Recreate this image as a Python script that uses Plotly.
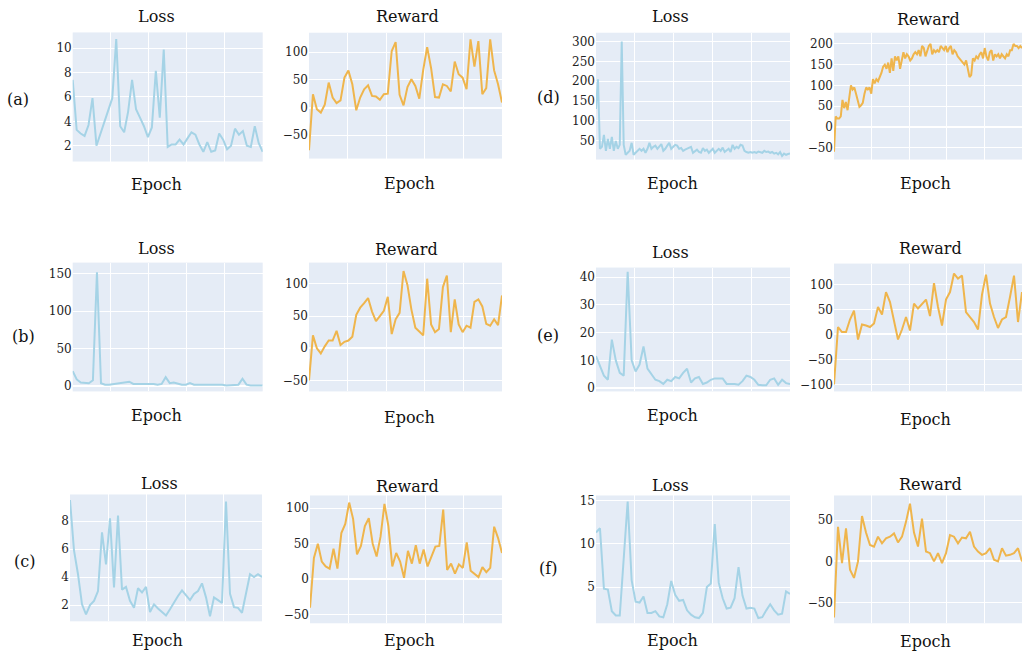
import plotly.graph_objects as go

W, H = 1022, 658

# ---------------- data ----------------
loss_a = [7.4, 3.3, 3.0, 2.8, 3.7, 5.9, 2.0, 3.0, 3.9, 4.9, 5.9, 10.75, 3.6, 3.1, 4.8, 7.4,
          5.0, 4.3, 3.6, 2.7, 3.5, 8.15, 4.3, 9.9, 1.9, 2.1, 2.1, 2.5, 2.1, 2.6, 3.1, 2.9,
          2.1, 1.5, 2.3, 1.5, 1.6, 3.0, 2.5, 1.7, 2.0, 3.4, 2.9, 3.2, 2.0, 1.9, 3.6, 2.2, 1.5]
reward_a = [-77, 24, -3, -9, 5, 45, 18, 8, 13, 54, 67, 42, -5, 18, 33, 40, 21, 20, 14, 24,
            25, 102, 118, 23, 4, 37, 51, 39, 16, 68, 109, 71, 19, 18, 42, 39, 29, 83, 60,
            54, 33, 123, 74, 120, 24, 35, 123, 67, 42, 9]

loss_b = [20, 9, 5, 4, 4, 8, 152, 4, 2, 2, 3, 3, 4, 5, 6, 3, 3, 3, 4, 3, 3, 2, 3, 12, 4,
          5, 3, 2, 2, 4, 2, 2, 2, 3, 3, 2, 3, 2, 1, 1, 1, 2, 10, 2, 1, 1, 1, 1]
reward_b = [-50, 20, 0, -8, 3, 12, 12, 27, 5, 10, 12, 18, 52, 63, 70, 78, 57, 42, 50, 58,
            80, 22, 45, 55, 120, 98, 60, 32, 26, 20, 108, 37, 25, 30, 95, 113, 25, 76, 37,
            25, 35, 32, 72, 76, 65, 38, 35, 45, 36, 82]

loss_c = [9.5, 5.9, 4.2, 2.05, 1.33, 2.0, 2.3, 3.0, 7.2, 4.9, 8.2, 3.25, 8.4, 3.1, 3.3,
          2.3, 1.8, 3.2, 2.9, 3.3, 1.5, 2.05, 1.75, 1.5, 1.25, 1.7, 2.2, 2.65, 3.05, 2.7,
          2.35, 2.8, 3.0, 3.55, 2.55, 1.2, 2.55, 2.35, 2.15, 9.4, 2.8, 1.85, 1.8, 1.45,
          2.75, 4.2, 4.0, 4.2, 4.0]
reward_c = [-40, 30, 50, 25, 18, 15, 43, 15, 65, 78, 108, 85, 35, 47, 75, 86, 50, 32, 60,
            106, 75, 18, 37, 25, 2, 40, 22, 48, 22, 42, 18, 32, 46, 47, 98, 13, 22, 8, 21,
            16, 52, 12, 7, 3, 17, 10, 16, 74, 58, 37]

loss_d = [130, 205, 30, 35, 65, 25, 55, 30, 60, 25, 50, 30, 40, 300, 40, 15, 20, 25, 45,
          15, 20, 25, 30, 25, 30, 20, 30, 45, 30, 35, 38, 30, 35, 42, 25, 30, 38, 45, 30,
          35, 40, 38, 30, 32, 25, 28, 30, 33, 35, 20, 25, 28, 22, 20, 32, 25, 28, 20, 25,
          30, 20, 25, 30, 25, 33, 22, 25, 30, 22, 40, 30, 35, 32, 40, 38, 25, 22, 20, 22,
          20, 22, 20, 23, 22, 20, 25, 22, 23, 20, 22, 18, 20, 16, 22, 12, 18, 15, 17, 18]
reward_d = [-60, 25, 20, 20, 25, 65, 45, 60, 40, 70, 100, 90, 95, 80, 60, 48, 52, 58, 80,
            95, 90, 95, 80, 115, 105, 115, 110, 120, 130, 145, 150, 140, 155, 130, 165,
            135, 170, 160, 170, 140, 160, 180, 165, 175, 170, 160, 165, 175, 180, 175, 185,
            170, 195, 190, 170, 185, 195, 200, 175, 185, 180, 185, 180, 195, 190, 185, 195,
            180, 190, 195, 175, 185, 180, 170, 165, 160, 155, 150, 160, 140, 120, 125, 165,
            160, 170, 165, 175, 180, 165, 190, 170, 160, 180, 185, 160, 175, 170, 175, 165,
            175, 170, 165, 175, 170, 185, 185, 200, 195, 195, 190, 195, 190]

loss_e = [11.5, 8, 4.5, 3, 17.5, 10, 5.5, 4.5, 42, 10, 6, 8.5, 15, 7, 5, 3, 2.5, 1.5, 3,
          2.5, 4, 3.5, 5.5, 7, 2, 3.5, 4, 1.5, 2, 3, 3.5, 3.5, 3.5, 1.5, 1.5, 1.5, 1.2,
          2.5, 4.5, 4, 3, 1.2, 1, 1, 3, 3.5, 1.2, 3, 1.8, 1.5]
reward_e = [-100, 15, 5, 5, 30, 48, -10, 20, 18, 15, 22, 55, 40, 85, 65, 25, -10, 10, 35,
            8, 62, 52, 60, 70, 37, 103, 55, 18, 70, 85, 122, 112, 118, 45, 35, 25, 10, 80,
            120, 62, 35, 13, 30, 35, 75, 118, 25, 85]

loss_f = [11.3, 11.8, 4.8, 4.7, 2.2, 1.7, 1.7, 8, 14.9, 5.8, 3.3, 3.2, 3.9, 2.0, 2.0, 2.2,
          1.6, 1.5, 3.0, 5.7, 4.1, 3.4, 3.5, 2.3, 1.8, 1.5, 1.4, 2.0, 5.0, 5.4, 12.3, 5.5,
          3.7, 2.5, 2.6, 3.7, 7.3, 4.0, 2.5, 2.6, 2.5, 1.4, 1.5, 2.3, 3.0, 2.3, 1.8, 1.9,
          4.5, 4.2]
reward_f = [-68, 42, -2, 40, -10, -20, 0, 55, 35, 20, 18, 30, 22, 28, 30, 34, 23, 30, 48,
            70, 35, 18, 52, 12, 10, 0, 10, -2, 10, 32, 30, 22, 29, 28, 36, 18, 12, 8, 10,
            16, 2, 0, 16, 7, 8, 10, 16, 0]

panel_labels = ["(a)", "(b)", "(c)", "(d)", "(e)", "(f)"]

LOSS_C = "#a5d3e6"
REW_C = "#efb54c"
FONT = "DejaVu Serif"

# panel spec: series, color, x px range, y px range (top,bottom), y range, dtick,
# title, title center (x,y), epoch center (x,y)
panels = [
    (loss_a, LOSS_C, (72.7, 262.7), (30.7, 161), (0.7, 11.3), 2, "Loss", (156, 15), (156, 184)),
    (reward_a, REW_C, (309, 502), (31, 158), (-92, 135), 50, "Reward", (407, 15), (409, 183)),
    (loss_d, LOSS_C, (596, 790), (31, 159), (3, 322), 50, "Loss", (670, 15), (672, 183)),
    (reward_d, REW_C, (834, 1022), (31, 159), (-79, 227), 50, "Reward", (928, 18), (925, 183)),
    (loss_b, LOSS_C, (72.7, 262.7), (263, 393), (-7, 165), 50, "Loss", (156, 249), (156, 417)),
    (reward_b, REW_C, (309, 502), (263, 393), (-67, 133), 50, "Reward", (406, 250), (409, 419)),
    (loss_e, LOSS_C, (596, 790), (268, 393), (-1.2, 43.5), 10, "Loss", (670, 253), (672, 417)),
    (reward_e, REW_C, (834, 1022), (264, 393), (-114, 142), 50, "Reward", (930, 249), (925, 421)),
    (loss_c, LOSS_C, (70, 262), (497, 625), (0.84, 9.9), 2, "Loss", (159, 486), (157, 644)),
    (reward_c, REW_C, (310, 502), (498, 627), (-62, 118), 50, "Reward", (407, 489), (409, 644)),
    (loss_f, LOSS_C, (596, 790), (498, 627), (0.8, 15.6), 5, "Loss", (670, 488), (672, 644)),
    (reward_f, REW_C, (834, 1022), (498, 627), (-75, 80), 50, "Reward", (930, 487), (925, 645)),
]

label_pos = [(18, 98), (23, 338), (24, 565), (548, 96), (548, 337), (548, 572)]

fig = go.Figure()
annotations = []
layout = dict(
    width=W, height=H, autosize=False,
    margin=dict(l=0, r=0, t=0, b=0),
    paper_bgcolor="white", plot_bgcolor="#E5ECF6",
    showlegend=False,
    font=dict(family=FONT, color="#222"),
)

for i, (ys, col, xr, yr, rng, dt, title, tpos, epos) in enumerate(panels, start=1):
    xs = list(range(len(ys)))
    fig.add_trace(go.Scatter(x=xs, y=ys, mode="lines",
                             line=dict(color=col, width=2),
                             xaxis=f"x{i}", yaxis=f"y{i}", hoverinfo="skip"))
    xd = [xr[0] / W, min(xr[1] / W, 1.0)]
    yd = [1 - yr[1] / H, 1 - yr[0] / H]
    n = len(ys) - 1
    layout[f"xaxis{i}"] = dict(domain=xd, anchor=f"y{i}", range=[0, n],
                               showticklabels=False, showgrid=True, gridcolor="white",
                               gridwidth=1, tick0=0, dtick=n / 5, zeroline=False,
                               showline=False, ticks="")
    layout[f"yaxis{i}"] = dict(domain=yd, anchor=f"x{i}", range=list(rng), dtick=dt,
                               showgrid=True, gridcolor="white", gridwidth=1,
                               zeroline=True, zerolinecolor="white", zerolinewidth=2,
                               showline=False, ticks="",
                               tickfont=dict(family=FONT, size=12, color="#222"))
    annotations.append(dict(text=title, x=tpos[0] / W, y=1 - tpos[1] / H, xref="paper",
                            yref="paper", xanchor="center", yanchor="middle",
                            showarrow=False, font=dict(family=FONT, size=16, color="#111")))
    annotations.append(dict(text="Epoch", x=epos[0] / W, y=1 - epos[1] / H, xref="paper",
                            yref="paper", xanchor="center", yanchor="middle",
                            showarrow=False, font=dict(family=FONT, size=16, color="#111")))

for lab, (px, py) in zip(panel_labels, label_pos):
    annotations.append(dict(text=lab, x=px / W, y=1 - py / H, xref="paper", yref="paper",
                            xanchor="center", yanchor="middle", showarrow=False,
                            font=dict(family=FONT, size=16, color="#111")))

layout["annotations"] = annotations
fig.update_layout(**layout)
fig.write_html("out.html", config={"displayModeBar": False},
               post_script="document.body.style.margin='0';document.body.style.overflow='hidden';")
